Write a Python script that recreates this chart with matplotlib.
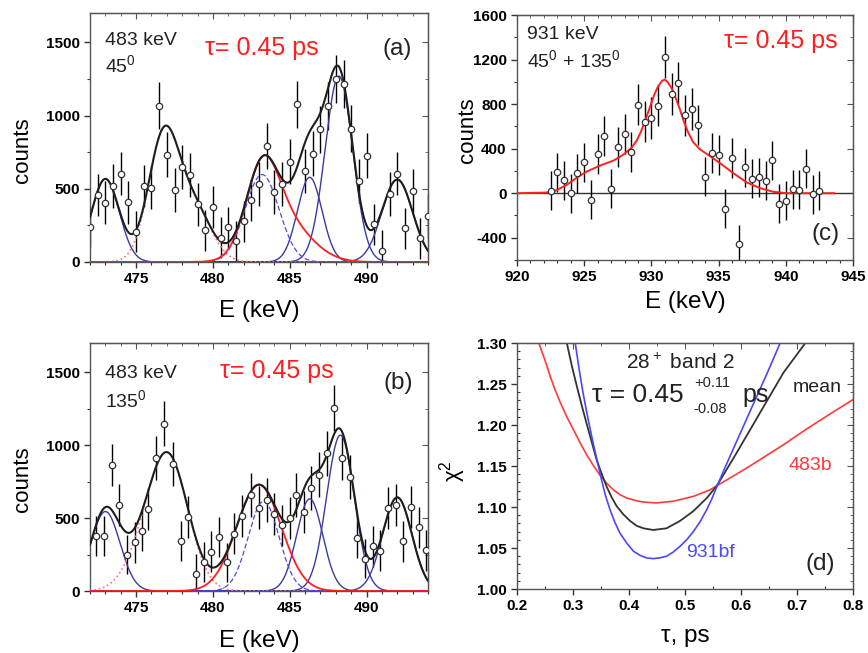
import matplotlib
matplotlib.use("Agg")
import matplotlib.pyplot as plt
import numpy as np
from matplotlib.ticker import MultipleLocator, FormatStrFormatter
from matplotlib import font_manager

plt.rcParams['font.family'] = ['Liberation Sans', 'DejaVu Sans']
plt.rcParams['mathtext.default'] = 'regular'
plt.rcParams['axes.unicode_minus'] = False

TICK_FONT = font_manager.FontProperties(family='Liberation Sans', weight='bold', size=11)

# ---- panel (a): 483 keV, 45 deg
e_a = [472.0, 472.5, 473.0, 473.5, 474.0, 474.5, 475.0, 475.5, 476.0, 476.5,
       477.0, 477.5, 478.0, 478.5, 479.0, 479.5, 480.0, 480.5, 481.0, 481.5,
       482.0, 482.5, 483.0, 483.5, 484.0, 484.5, 485.0, 485.5, 486.0, 486.5,
       487.0, 487.5, 488.0, 488.5, 489.0, 489.5, 490.0, 490.5, 491.0, 491.5,
       492.0, 492.5, 493.0, 493.5, 494.0]
cnt_a = [240, 457, 405, 521, 604, 407, 208, 519, 508, 1068,
         732, 489, 647, 592, 393, 217, 375, 165, 236, 140,
         277, 423, 531, 791, 480, 530, 686, 1077, 620, 739,
         906, 1063, 1251, 1217, 910, 551, 725, 258, 75, 464,
         604, 229, 485, 162, 311]
err_a = [140, 145, 145, 150, 150, 145, 140, 145, 145, 160,
         155, 150, 150, 150, 145, 140, 145, 140, 140, 140,
         140, 145, 150, 155, 150, 150, 155, 160, 150, 155,
         160, 165, 165, 165, 160, 150, 155, 140, 140, 150,
         150, 140, 150, 140, 150]

# fit components (centre keV, height counts, sigma keV)
a_blue_pos = [473.0, 486.3, 488.2, 492.0]
a_blue_hgt = [567, 578, 1269, 563]
a_blue_sig = [0.9, 0.8, 0.9, 1.0]
a_dot_pos = [476.8, 478.8]
a_dot_hgt = [856, 349]
a_dot_sig = [1.0, 1.1]
a_red_pos = [483.2, 484.6]
a_red_hgt = [520, 280]
a_red_sig = [1.05, 1.7]
a_dash_pos = [483.2]
a_dash_hgt = [597]
a_dash_sig = [1.1]

# ---- panel (b): 483 keV, 135 deg
e_b = [472.4, 472.9, 473.4, 473.9, 474.4, 474.9, 475.4, 475.8, 476.3, 476.8,
       477.4, 477.9, 478.4, 478.9, 479.4, 479.9, 480.4, 480.9, 481.4, 481.9,
       482.5, 483.0, 483.5, 484.0, 484.5, 485.0, 485.4, 485.9, 486.4, 486.9,
       487.4, 487.9, 488.4, 488.9, 489.4, 489.9, 490.4, 490.9, 491.4, 491.9,
       492.4, 492.9, 493.4, 493.9]
cnt_b = [377, 377, 863, 592, 250, 334, 413, 563, 913, 1146,
         869, 343, 506, 120, 200, 270, 370, 197, 393, 515,
         658, 572, 622, 527, 452, 500, 660, 540, 706, 797,
         944, 1255, 915, 783, 365, 222, 306, 277, 567, 592,
         340, 574, 436, 279]
err_b = [140, 140, 145, 145, 135, 140, 140, 145, 150, 155,
         150, 140, 145, 135, 135, 140, 140, 135, 140, 145,
         150, 145, 150, 145, 140, 145, 150, 145, 150, 155,
         155, 160, 155, 150, 140, 135, 140, 140, 145, 145,
         140, 145, 140, 140]

b_blue_pos = [473.0, 486.3, 488.3, 492.0]
b_blue_hgt = [545, 632, 1069, 642]
b_blue_sig = [0.95, 0.85, 0.9, 0.95]
b_dot_pos = [477.1, 475.3]
b_dot_hgt = [900, 150]
b_dot_sig = [1.3, 1.2]
b_red_pos = [483.0]
b_red_hgt = [729]
b_red_sig = [1.45]
b_dash_pos = [483.3]
b_dash_hgt = [615]
b_dash_sig = [1.0]

# ---- panel (c): 931 keV, 45 + 135 deg
e_c = [922.5, 923.0, 923.5, 924.0, 924.5, 925.0, 925.5, 926.0, 926.5, 927.0,
       927.5, 928.0, 928.5, 929.0, 929.5, 930.0, 930.5, 931.0, 931.5, 932.0,
       932.5, 933.0, 933.5, 934.0, 934.5, 935.0, 935.5, 936.0, 936.5, 937.0,
       937.5, 938.0, 938.5, 939.0, 939.5, 940.0, 940.5, 941.0, 941.5, 942.0,
       942.5]
cnt_c = [24, 186, 117, 0, 180, 279, -60, 354, 510, 42,
         411, 531, 369, 795, 642, 675, 786, 1224, 891, 990,
         699, 756, 615, 147, 360, 339, -138, 318, -453, 234,
         129, 144, 114, 294, -93, -69, 36, 30, 219, -9,
         24]
err_c = [175, 175, 175, 175, 175, 175, 175, 180, 180, 175,
         180, 180, 180, 185, 185, 185, 185, 190, 185, 185,
         185, 185, 180, 175, 180, 180, 175, 180, 170, 175,
         175, 175, 175, 175, 175, 175, 175, 175, 175, 175,
         175]
fit_e_c = [920.0, 922.2, 922.9, 923.7, 924.4, 925.2, 926.2, 927.2, 927.9, 928.5,
           928.9, 929.2, 929.5, 929.9, 930.2, 930.5, 930.8, 931.0, 931.2, 931.5,
           931.8, 932.1, 932.4, 932.7, 933.1, 933.6, 934.4, 935.1, 936.1, 937.1,
           938.1, 939.1, 940.1, 943.6]
fit_c = [0, 6, 24, 75, 135, 195, 249, 294, 345, 405,
         470, 545, 640, 775, 880, 960, 1010, 1020, 1000, 945,
         860, 760, 650, 555, 460, 395, 330, 270, 180, 96,
         45, 12, 0, 0]

# ---- panel (d): chi2 vs tau
tau_red = [0.239, 0.250, 0.2595, 0.268, 0.277, 0.289, 0.301, 0.313, 0.325, 0.337,
           0.348, 0.360, 0.372, 0.384, 0.396, 0.411, 0.426, 0.449, 0.479, 0.515,
           0.545, 0.557, 0.587, 0.616, 0.646, 0.676, 0.706, 0.735, 0.765, 0.800]
chi_red = [1.300, 1.279, 1.259, 1.243, 1.228, 1.210, 1.194, 1.178, 1.163, 1.150,
           1.139, 1.129, 1.121, 1.115, 1.111, 1.108, 1.106, 1.105, 1.107, 1.113,
           1.121, 1.126, 1.138, 1.150, 1.163, 1.176, 1.190, 1.203, 1.216, 1.231]
tau_mean = [0.289, 0.298, 0.307, 0.316, 0.325, 0.334, 0.342, 0.351, 0.360, 0.369,
            0.378, 0.390, 0.402, 0.414, 0.426, 0.443, 0.467, 0.491, 0.515, 0.539,
            0.557, 0.587, 0.617, 0.646, 0.676, 0.715]
chi_mean = [1.300, 1.272, 1.247, 1.223, 1.200, 1.178, 1.158, 1.141, 1.125, 1.112,
            1.101, 1.091, 1.083, 1.077, 1.074, 1.072, 1.074, 1.083, 1.095, 1.111,
            1.126, 1.160, 1.195, 1.229, 1.264, 1.300]
tau_931 = [0.304, 0.311, 0.318, 0.327, 0.336, 0.344, 0.351, 0.358, 0.366, 0.375,
           0.384, 0.396, 0.408, 0.420, 0.431, 0.443, 0.455, 0.467, 0.479, 0.491,
           0.503, 0.515, 0.527, 0.539, 0.548, 0.557, 0.572, 0.587, 0.617, 0.646,
           0.670]
chi_931 = [1.300, 1.268, 1.239, 1.207, 1.178, 1.154, 1.133, 1.114, 1.097, 1.081,
           1.068, 1.056, 1.046, 1.041, 1.038, 1.037, 1.038, 1.040, 1.045, 1.052,
           1.060, 1.070, 1.082, 1.097, 1.110, 1.125, 1.149, 1.172, 1.218, 1.262,
           1.300]

BLUE = '#3a3aa6'
RED = '#ff1f1f'
BLACK = '#1e1e1e'


def gsum(x, pos, hgt, sig):
    y = np.zeros_like(x)
    for c, h, s in zip(pos, hgt, sig):
        y += h * np.exp(-0.5 * ((x - c) / s) ** 2)
    return y


def style(ax, xmaj, xmin, ymaj, ymin):
    ax.xaxis.set_major_locator(MultipleLocator(xmaj))
    ax.xaxis.set_minor_locator(MultipleLocator(xmin))
    ax.yaxis.set_major_locator(MultipleLocator(ymaj))
    ax.yaxis.set_minor_locator(MultipleLocator(ymin))
    ax.tick_params(which='both', direction='out', labelsize=11, colors='#333333',
                   labelcolor='black')
    ax.tick_params(which='major', length=4, width=1)
    ax.tick_params(which='minor', length=2.5, width=0.8)
    for sp in ax.spines.values():
        sp.set_color('#555555')
        sp.set_linewidth(1.0)
    top = ax.secondary_xaxis('top')
    top.xaxis.set_major_locator(MultipleLocator(xmaj))
    top.xaxis.set_minor_locator(MultipleLocator(xmin))
    top.tick_params(which='both', direction='in', labeltop=False, colors='#555555')
    top.tick_params(which='major', length=4)
    top.tick_params(which='minor', length=2.5)
    right = ax.secondary_yaxis('right')
    right.yaxis.set_major_locator(MultipleLocator(ymaj))
    right.yaxis.set_minor_locator(MultipleLocator(ymin))
    right.tick_params(which='both', direction='in', labelright=False, colors='#555555')
    right.tick_params(which='major', length=4)
    right.tick_params(which='minor', length=2.5)


def note(ax, x, y, s, size, color='#222222', ha='left'):
    ax.text(x, y, s, transform=ax.transAxes, fontsize=size, color=color, ha=ha)


def spectrum(ax, e, cnt, err, blue, dot, red, dash):
    x = np.linspace(472, 494, 600)
    yb = [gsum(x, [p], [h], [s]) for p, h, s in zip(*blue)]
    ydot = gsum(x, *dot)
    yred = gsum(x, *red)
    ydash = gsum(x, *dash)
    total = sum(yb) + ydot + yred
    ax.errorbar(e, cnt, yerr=err, fmt='none', ecolor='black', elinewidth=1.0, zorder=2)
    for y in yb:
        ax.plot(x, y, color=BLUE, lw=1.0, zorder=3)
    ax.plot(x, ydot, color='#ff7070', lw=1.2, ls=':', zorder=3)
    ax.plot(x, ydash, color='#4a4ae0', lw=0.9, ls=(0, (4, 2)), zorder=3)
    ax.plot(x, yred, color=RED, lw=1.3, zorder=3)
    ax.plot(x, total, color=BLACK, lw=1.5, zorder=4)
    ax.plot(e, cnt, 'o', ms=4.6, mfc='white', mec='#333333', mew=0.9, zorder=5)
    ax.set_xlim(472, 494)
    ax.set_ylim(0, 1700)
    style(ax, 5, 1, 500, 250)
    ax.set_xlabel('E (keV)', fontsize=17.5)
    ax.set_ylabel('counts', fontsize=16)


fig = plt.figure(figsize=(8.68, 6.53), dpi=100)

ax_a = fig.add_axes([0.1037, 0.5988, 0.3894, 0.3813])
spectrum(ax_a, e_a, cnt_a, err_a,
         (a_blue_pos, a_blue_hgt, a_blue_sig), (a_dot_pos, a_dot_hgt, a_dot_sig),
         (a_red_pos, a_red_hgt, a_red_sig), (a_dash_pos, a_dash_hgt, a_dash_sig))
ax_a.xaxis.set_label_coords(0.5, -0.153)
ax_a.yaxis.set_label_coords(-0.169, 0.45)
note(ax_a, 0.044, 0.871, '483 keV', 14)
note(ax_a, 0.044, 0.763, '45$^0$', 14)
note(ax_a, 0.509, 0.831, '\u03c4= 0.45 ps', 18, RED, 'center')
note(ax_a, 0.908, 0.83, '(a)', 17.5, ha='center')

ax_b = fig.add_axes([0.1037, 0.0949, 0.3894, 0.3798])
spectrum(ax_b, e_b, cnt_b, err_b,
         (b_blue_pos, b_blue_hgt, b_blue_sig), (b_dot_pos, b_dot_hgt, b_dot_sig),
         (b_red_pos, b_red_hgt, b_red_sig), (b_dash_pos, b_dash_hgt, b_dash_sig))
ax_b.xaxis.set_label_coords(0.5, -0.157)
ax_b.yaxis.set_label_coords(-0.169, 0.45)
note(ax_b, 0.044, 0.859, '483 keV', 14)
note(ax_b, 0.044, 0.742, '135$^0$', 14)
note(ax_b, 0.553, 0.859, '\u03c4= 0.45 ps', 18, RED, 'center')
note(ax_b, 0.911, 0.815, '(b)', 17.5, ha='center')

# (c)
ax_c = fig.add_axes([0.5956, 0.6018, 0.3871, 0.3752])
ax_c.axhline(0, color='#333333', lw=1.0, zorder=1)
ax_c.errorbar(e_c, cnt_c, yerr=err_c, fmt='none', ecolor='black', elinewidth=1.0, zorder=2)
ax_c.plot(fit_e_c, fit_c, color=RED, lw=1.4, zorder=3)
ax_c.plot(e_c, cnt_c, 'o', ms=4.6, mfc='white', mec='#333333', mew=0.9, zorder=5)
ax_c.set_xlim(920, 945)
ax_c.set_ylim(-600, 1600)
style(ax_c, 5, 1, 400, 200)
ax_c.set_xlabel('E (keV)', fontsize=17.5)
ax_c.set_ylabel('counts', fontsize=16)
ax_c.xaxis.set_label_coords(0.5, -0.127)
ax_c.yaxis.set_label_coords(-0.116, 0.53)
note(ax_c, 0.03, 0.902, '931 keV', 14)
note(ax_c, 0.03, 0.788, '45$^0$ + 135$^0$', 14)
note(ax_c, 0.955, 0.865, '\u03c4= 0.45 ps', 18, RED, 'right')
note(ax_c, 0.917, 0.08, '(c)', 17.5, ha='center')

# (d)
ax_d = fig.add_axes([0.5956, 0.098, 0.3871, 0.3767])
ax_d.plot(tau_red, chi_red, color='#ff3a3a', lw=1.2)
ax_d.plot(tau_mean, chi_mean, color='#333333', lw=1.3)
ax_d.plot(tau_931, chi_931, color='#4848ff', lw=1.2)
ax_d.set_xlim(0.2, 0.8)
ax_d.set_ylim(1.0, 1.3)
style(ax_d, 0.1, 0.05, 0.05, 0.01)
ax_d.tick_params(axis='both', which='minor', direction='in')
ax_d.yaxis.set_major_formatter(FormatStrFormatter('%.2f'))
ax_d.xaxis.set_major_formatter(FormatStrFormatter('%.1f'))
ax_d.set_xlabel('\u03c4, ps', fontsize=17.5)
ax_d.set_ylabel('\u03c7$^2$', fontsize=16)
ax_d.xaxis.set_label_coords(0.5, -0.146)
ax_d.yaxis.set_label_coords(-0.146, 0.48)
note(ax_d, 0.485, 0.894, '28$^+$ band 2', 15, ha='center')
note(ax_d, 0.223, 0.76, '\u03c4 = 0.45', 19)
note(ax_d, 0.527, 0.821, '+0.11', 10.5)
note(ax_d, 0.524, 0.715, '-0.08', 10.5)
note(ax_d, 0.67, 0.76, 'ps', 18)
note(ax_d, 0.821, 0.80, 'mean', 14)
note(ax_d, 0.807, 0.484, '483b', 14, '#ff3a3a')
note(ax_d, 0.503, 0.13, '931bf', 14, '#4848ff')
note(ax_d, 0.902, 0.077, '(d)', 17.5, ha='center')

# bold tick labels: set them once the ticks exist
fig.canvas.draw()
for ax in (ax_a, ax_b, ax_c, ax_d):
    for lab in ax.get_xticklabels() + ax.get_yticklabels():
        lab.set_fontproperties(TICK_FONT)

fig.savefig('out.png', dpi=100)
